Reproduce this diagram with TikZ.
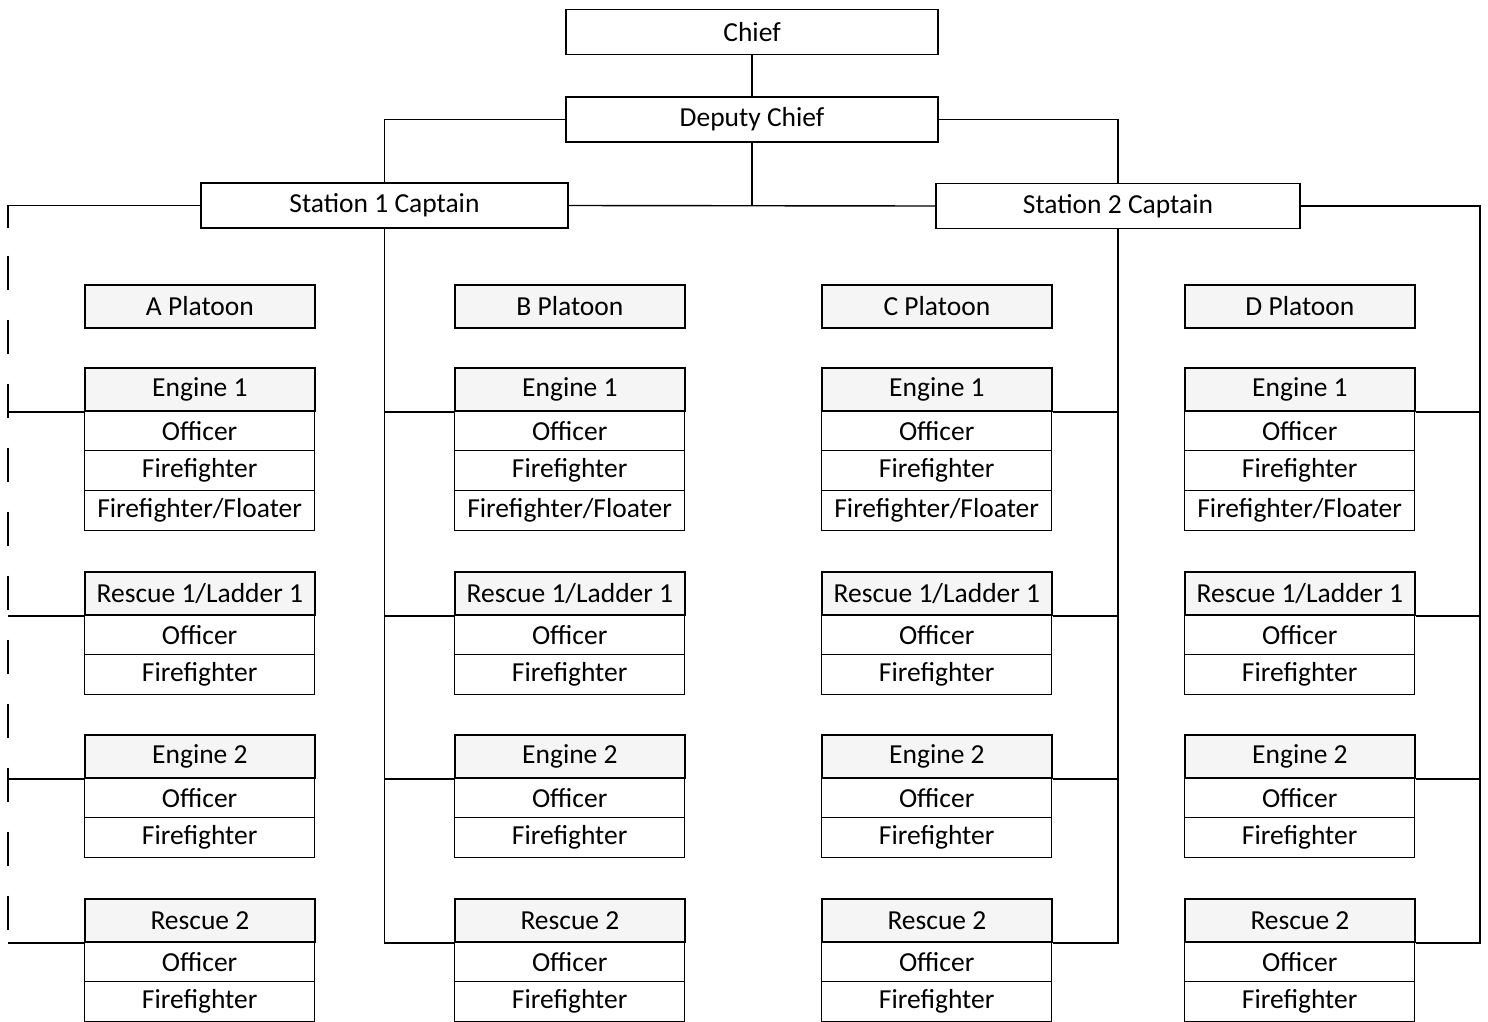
\documentclass[tikz,border=0pt]{standalone}
\usepackage{fontspec}
\setmainfont{Carlito}
\begin{document}
\begin{tikzpicture}[x=1bp,y=-1bp,
  every node/.style={font=\fontsize{27.5bp}{33bp}\selectfont},
  topbox/.style={draw, line width=1.8bp, rectangle, inner sep=0pt, minimum height=45bp},
  hdr/.style={draw, line width=1.8bp, rectangle, inner sep=0pt, anchor=north west, minimum width=230bp, minimum height=43bp, fill=gray!8},
  rowbox/.style={draw, line width=1.3bp, rectangle, inner sep=0pt, anchor=north west, minimum width=230bp, minimum height=40bp},
  conn/.style={line width=1.4bp},
  trunkdash/.style={line width=1.4bp, dash pattern=on 34bp off 30bp}
]
\useasboundingbox (0,0) rectangle (1488,1021);

% top level
\node[topbox, minimum width=372bp] (chief) at (752,32) {Chief};
\node[topbox, minimum width=372bp] (deputy) at (752,119.5) {Deputy Chief};
\node[topbox, minimum width=367bp] (st1) at (384.5,205.5) {Station 1 Captain};
\node[topbox, minimum width=364bp] (st2) at (1118,206) {Station 2 Captain};

% platoon columns
\foreach \c/\L/\P in {A/84/A Platoon, B/454/B Platoon, C/821/C Platoon, D/1184/D Platoon} {
  \node[hdr] (\c-pl) at (\L,284) {\P};
  % Engine 1
  \node[hdr] (\c-e1) at (\L,367) {Engine 1};
  \node[rowbox] (\c-e1-o) at (\L,410) {Officer};
  \node[rowbox] (\c-e1-f) at (\L,450) {Firefighter};
  \node[rowbox] (\c-e1-ff) at (\L,490) {Firefighter/Floater};
  % Rescue 1 / Ladder 1
  \node[hdr] (\c-r1) at (\L,571) {Rescue 1/Ladder 1};
  \node[rowbox] (\c-r1-o) at (\L,614) {Officer};
  \node[rowbox] (\c-r1-f) at (\L,654) {Firefighter};
  % Engine 2
  \node[hdr] (\c-e2) at (\L,734) {Engine 2};
  \node[rowbox] (\c-e2-o) at (\L,777) {Officer};
  \node[rowbox] (\c-e2-f) at (\L,817) {Firefighter};
  % Rescue 2
  \node[hdr] (\c-r2) at (\L,898) {Rescue 2};
  \node[rowbox] (\c-r2-o) at (\L,941) {Officer};
  \node[rowbox] (\c-r2-f) at (\L,981) {Firefighter};
}

% connectors top
\draw[conn] (chief) -- (deputy);
\draw[conn] (deputy.west) -| (st1.north);
\draw[conn] (deputy.east) -| (st2.north);
\draw[conn] (st1.east) -- (st2.west);
\draw[conn] (deputy.south) -- (deputy.south |- st1.east);

% left trunk (Station 1 -> A Platoon)
\coordinate (Lx) at (8,0);
\draw[conn] (st1.west) -- (st1.west -| Lx) -- ++(0,22);
\draw[trunkdash] (st1.west -| Lx) ++(0,50) -- (Lx |- A-r2.south west);
\foreach \u in {e1,r1,e2,r2} {
  \draw[conn] (A-\u.south west) -- (A-\u.south west -| Lx);
}

% Station 1 -> B Platoon
\draw[conn] (st1.south) |- (B-r2.south west);
\foreach \u in {e1,r1,e2} {
  \draw[conn] (B-\u.south west) -- (B-\u.south west -| st1.south);
}

% Station 2 -> C Platoon
\draw[conn] (st2.south) |- (C-r2.south east);
\foreach \u in {e1,r1,e2} {
  \draw[conn] (C-\u.south east) -- (C-\u.south east -| st2.south);
}

% Station 2 -> D Platoon
\coordinate (Rx) at (1480,0);
\draw[conn] (st2.east) -| (Rx |- D-r2.south east) -- (D-r2.south east);
\foreach \u in {e1,r1,e2} {
  \draw[conn] (D-\u.south east) -- (D-\u.south east -| Rx);
}
\end{tikzpicture}
\end{document}
